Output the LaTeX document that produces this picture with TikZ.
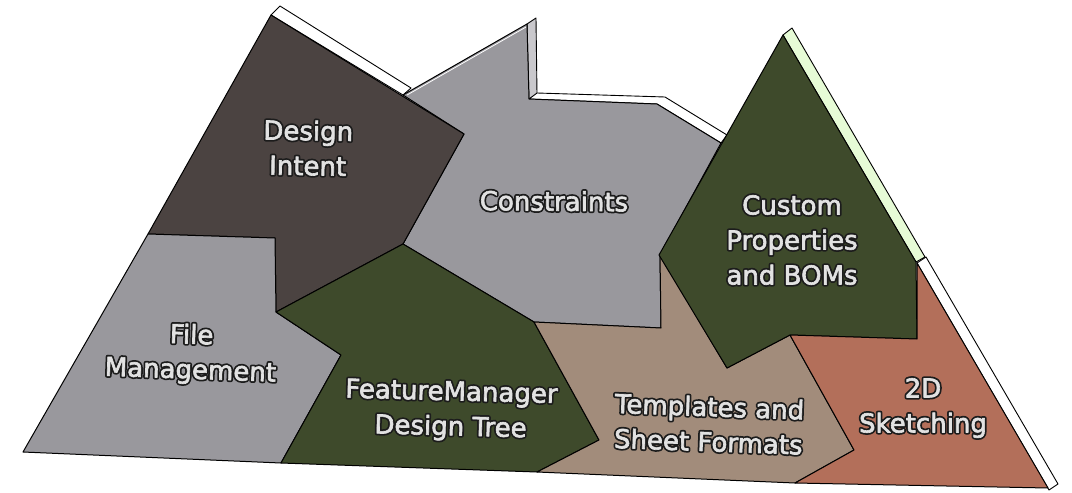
\documentclass[tikz,border=0pt]{standalone}
\usepackage{fontspec}
\newfontfamily\lblfont[FakeBold=2.5]{DejaVu Sans}
\newfontfamily\halofont[FakeBold=16]{DejaVu Sans}
\definecolor{cdesign}{HTML}{4B4341}
\definecolor{cgray}{HTML}{99989D}
\definecolor{cgreen}{HTML}{3E4A2B}
\definecolor{ctan}{HTML}{A28C7B}
\definecolor{cterra}{HTML}{B36F5A}
\definecolor{clgreen}{HTML}{E6FBD6}
\definecolor{cside}{HTML}{C9C8CC}
\definecolor{lbl}{HTML}{E2E2E2}
\definecolor{halo}{HTML}{1C1C1C}
\newcommand\olbl[1]{\leavevmode\rlap{\halofont\color{halo}#1}{\lblfont\color{lbl}#1}}
\tikzset{
  face/.style={draw=black, line width=1pt, line join=round},
  strip/.style={draw=black, line width=0.9pt, line join=round, fill=white},
  label/.style={align=center, inner sep=0pt, line join=round, font={\fontsize{26}{35}\selectfont}}
}
\begin{document}
\begin{tikzpicture}[x=1pt,y=-1pt, line join=round]
\useasboundingbox (0,0) rectangle (1072,493);
% 3D strips
\draw[strip] (271,15) -- (280,6) -- (411,88) -- (403,95) -- cycle;
\draw[strip, fill=cside] (527,24) -- (536,18) -- (537,94) -- (529,99) -- cycle;
\draw[strip] (529,99) -- (537,93) -- (665,97) -- (727,135) -- (721,143) -- (657,104) -- cycle;
\draw[strip, fill=clgreen] (783,35) -- (792,28) -- (925,257) -- (916,262) -- cycle;
\draw[strip] (917,263) -- (926,257) -- (1058,484) -- (1049,490) -- cycle;
% faces
\draw[face, fill=cgray] (403,95) -- (527,24) -- (529,99) -- (657,104) -- (721,143)
   -- (660,255) -- (661,328) -- (534,322) -- (403,244) -- (464,134) -- cycle;
\draw[line width=0.8pt, white] (407,95) -- (526,27);
\draw[face, fill=cdesign] (271,15) -- (464,134) -- (403,244) -- (276,312) -- (275,238) -- (148,234) -- cycle;
\draw[face, fill=cgray] (148,234) -- (275,238) -- (276,312) -- (341,355) -- (281,463) -- (23,452) -- cycle;
\draw[face, fill=cgreen] (403,244) -- (534,322) -- (599,440) -- (537,472) -- (281,463) -- (341,355) -- (276,312) -- cycle;
\draw[face, fill=ctan] (534,322) -- (661,328) -- (660,255) -- (727,368) -- (790,335) -- (854,450)
   -- (795,483) -- (537,472) -- (599,440) -- cycle;
\draw[face, fill=cgreen] (783,35) -- (916,262) -- (917,339) -- (790,335) -- (727,368) -- (659,255) -- cycle;
\draw[face, fill=cterra] (790,335) -- (917,339) -- (917,263) -- (1048,488) -- (795,483) -- (854,450) -- cycle;
% labels
\node[label, rotate=-1] (ldesign) at (308,148) {\olbl{Design}\\\olbl{Intent}};
\node[label, rotate=-0.5] (lcons) at (554,201) {\olbl{Constraints}};
\node[label] (lcustom) at (792,240) {\olbl{Custom}\\\olbl{Properties}\\\olbl{and BOMs}};
\node[label, rotate=-2] (lfile) at (191,354) {\olbl{File}\\\olbl{Management}};
\node[label, rotate=-1.5] (lfm) at (451,411) {\olbl{FeatureManager}\\\olbl{Design Tree}};
\node[label, rotate=-2] (ltemp) at (709,424) {\olbl{Templates and}\\\olbl{Sheet Formats}};
\node[label] (l2d) at (923,408) {\olbl{2D}\\\olbl{Sketching}};
\end{tikzpicture}
\end{document}
